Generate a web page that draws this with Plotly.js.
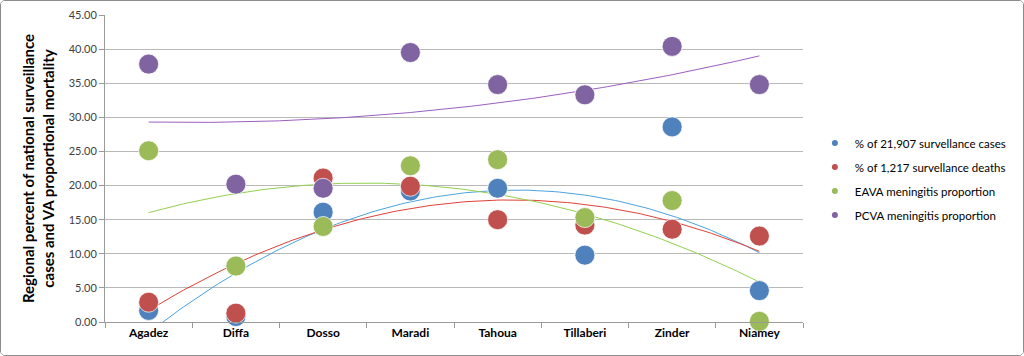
<!DOCTYPE html>
<html><head><meta charset="utf-8">
<script src="https://cdn.plot.ly/plotly-3.0.1.min.js"></script>
<style>
html,body{margin:0;padding:0;background:#fff;}
#frame{width:1024px;height:356px;box-sizing:border-box;border:1px solid #8c8c8c;border-radius:5px;overflow:hidden;}
#chart{width:1022px;height:354px;}
</style></head>
<body><div id="frame"><div id="chart"></div></div>
<script>
const regions = ["Agadez","Diffa","Dosso","Maradi","Tahoua","Tillaberi","Zinder","Niamey"];
const seriesNames = ["% of 21,907 survellance cases","% of 1,217 survellance deaths","EAVA meningitis proportion","PCVA meningitis proportion"];
const casesPct  = [1.7, 0.8, 16.1, 19.2, 19.6, 9.8, 28.6, 4.6];
const deathsPct = [2.9, 1.3, 21.1, 19.9, 15.0, 14.2, 13.6, 12.6];
const eavaPct   = [25.1, 8.2, 14.0, 22.9, 23.8, 15.3, 17.8, 0.1];
const pcvaPct   = [37.8, 20.2, 19.6, 39.5, 34.8, 33.3, 40.4, 34.8];
const colors = ["#4F81BD","#C0504D","#9BBB59","#8064A2"];
const trendColors = ["#4aa3df","#e0403a","#92d050","#9b5fc0"];
const yTicks = [0,5,10,15,20,25,30,35,40,45];

const allSeries = [casesPct, deathsPct, eavaPct, pcvaPct];

// quadratic least-squares (Excel polynomial order 2 trendline), x = 1..n
function polyFit2(ys){
  const n = ys.length; let S=[0,0,0,0,0], T=[0,0,0];
  ys.forEach((y,i)=>{const x=i+1; for(let k=0;k<5;k++)S[k]+=Math.pow(x,k); for(let k=0;k<3;k++)T[k]+=y*Math.pow(x,k);});
  const A=[[S[0],S[1],S[2],T[0]],[S[1],S[2],S[3],T[1]],[S[2],S[3],S[4],T[2]]];
  for(let i=0;i<3;i++){for(let j=i+1;j<3;j++){const f=A[j][i]/A[i][i];for(let k=i;k<4;k++)A[j][k]-=f*A[i][k];}}
  const c=[0,0,0];
  for(let i=2;i>=0;i--){let s=A[i][3];for(let k=i+1;k<3;k++)s-=A[i][k]*c[k];c[i]=s/A[i][i];}
  return c;
}

const traces = [];
const xIdx = regions.map((r,i)=>i);
allSeries.forEach((ys,s)=>{
  const c = polyFit2(ys);
  const tx=[], ty=[];
  for(let j=0;j<=140;j++){const x=1+7*j/140; tx.push(x-1); ty.push(c[0]+c[1]*x+c[2]*x*x);}
  traces.push({x:tx,y:ty,mode:'lines',line:{color:trendColors[s],width:1},showlegend:false,hoverinfo:'skip'});
});
allSeries.forEach((ys,s)=>{
  traces.push({x:xIdx,y:ys,mode:'markers',name:seriesNames[s],showlegend:false,
    marker:{color:colors[s],size:20,line:{color:'rgba(255,255,255,0.7)',width:1}},cliponaxis:false});
});
allSeries.forEach((ys,s)=>{
  traces.push({x:[null],y:[null],mode:'markers',name:seriesNames[s],legendgroup:'g'+s,
    marker:{color:colors[s],size:6}});
});
// boundary ticks for category axis look
traces.push({x:[null],y:[null],xaxis:'x2',showlegend:false,hoverinfo:'skip'});

const font = "Lato, Calibri, 'Open Sans', sans-serif";
Plotly.newPlot('chart', traces, {
  width:1022, height:354,
  margin:{l:104,r:214,t:14,b:33},
  paper_bgcolor:'#fff', plot_bgcolor:'#fff',
  font:{family:font,color:'#000'},
  xaxis:{range:[-0.5,7.5],tickvals:xIdx,ticktext:regions,ticks:'',showgrid:false,zeroline:false,
    showline:true,linecolor:'#9a9a9a',linewidth:1,tickfont:{size:12,color:'#000',weight:'bold'},fixedrange:true},
  xaxis2:{range:[-0.5,7.5],overlaying:'x',tickvals:[-0.5,0.5,1.5,2.5,3.5,4.5,5.5,6.5,7.5],showticklabels:false,
    ticks:'outside',ticklen:5,tickcolor:'#9a9a9a',showgrid:false,zeroline:false,showline:false,side:'bottom',anchor:'y'},
  yaxis:{range:[0,45],tickvals:yTicks,tickformat:'.2f',showgrid:true,gridcolor:'#b8b8b8',gridwidth:1,
    zeroline:false,showline:true,linecolor:'#9a9a9a',ticks:'outside',ticklen:5,tickcolor:'#9a9a9a',
    tickfont:{size:11,color:'#404040'},
    title:{text:'Regional percent of national surveillance<br>cases and VA proportional mortality',font:{size:15,color:'#000',weight:'bold'},standoff:10}},
  showlegend:true,
  legend:{x:1.017,y:0.63,xanchor:'left',yanchor:'top',font:{size:11.5,color:'#000'},traceorder:'grouped',tracegroupgap:5,bgcolor:'rgba(0,0,0,0)'},
}, {staticPlot:true});
</script></body></html>
